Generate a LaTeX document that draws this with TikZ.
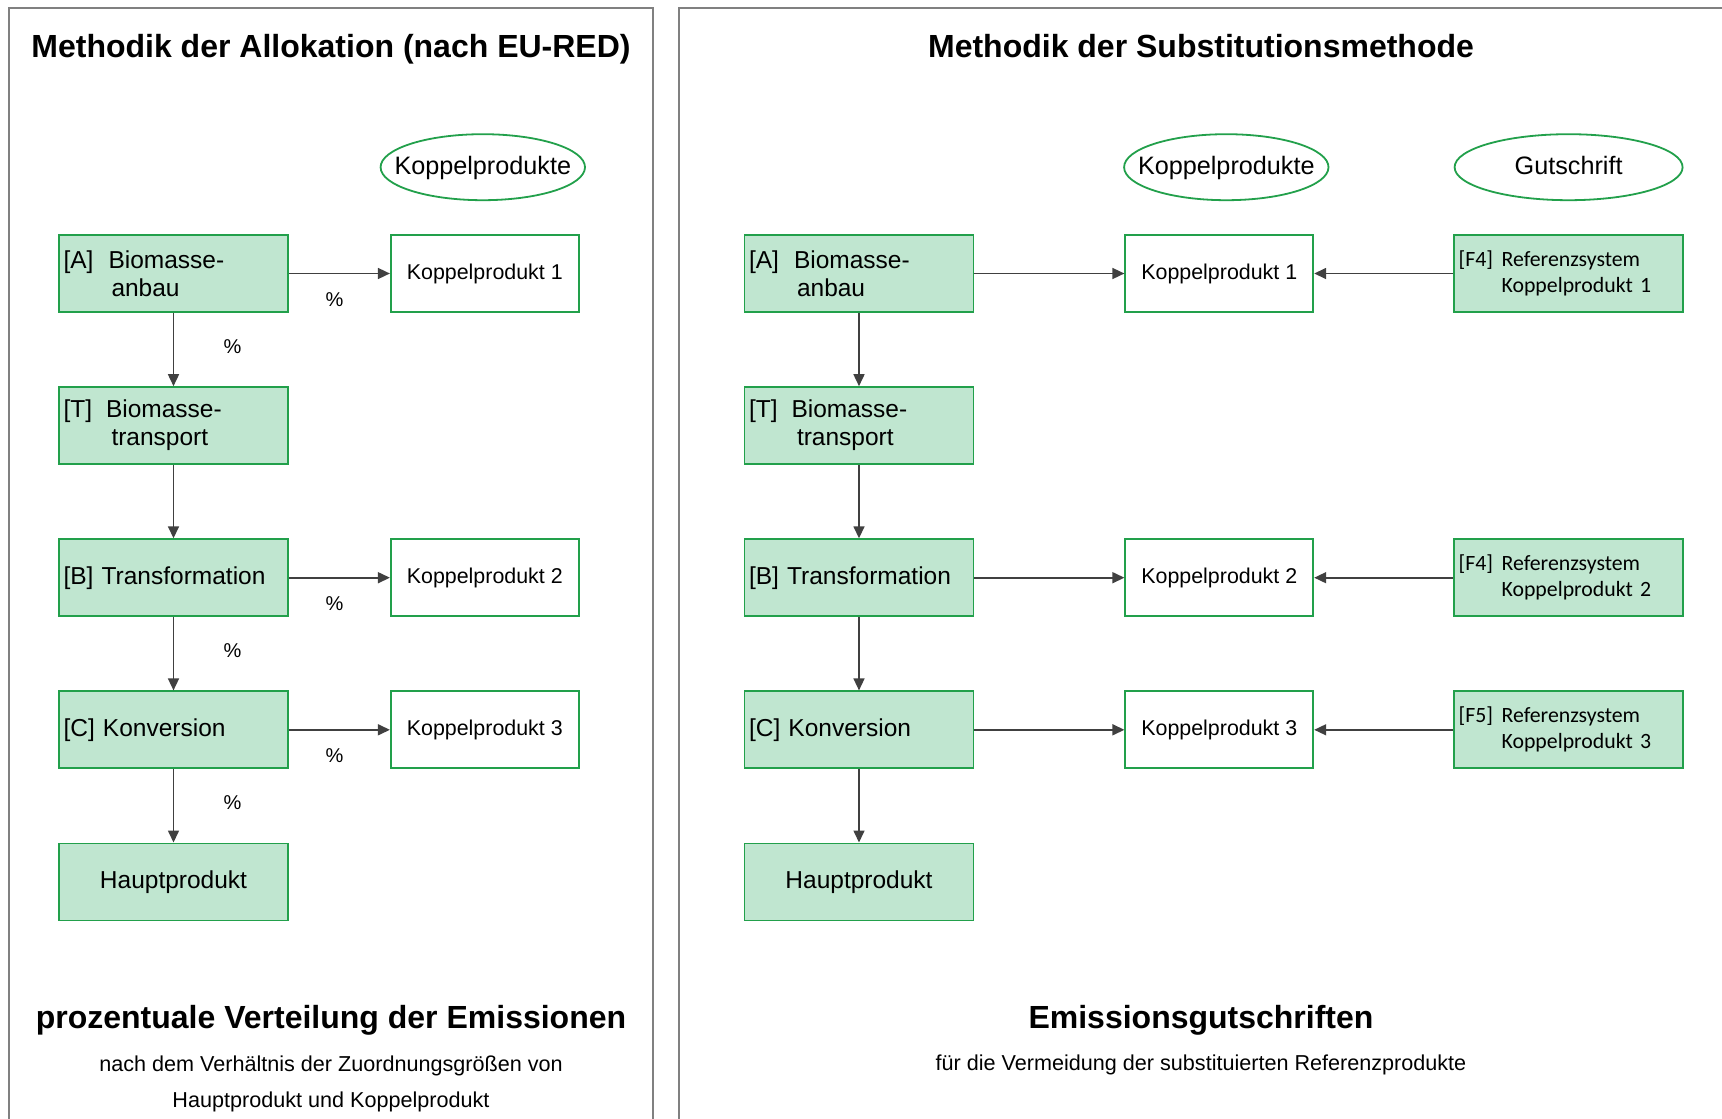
\documentclass[tikz,border=0pt]{standalone}
\usepackage{fontspec}
\setmainfont{Liberation Sans}
\newfontfamily\calibfont{Carlito}
\usepackage{tikz}
\usetikzlibrary{arrows.meta,positioning,shapes.geometric}
\definecolor{procgreen}{HTML}{C0E6D0}
\definecolor{linegreen}{HTML}{22A04B}
\definecolor{arrgrey}{HTML}{404040}
\definecolor{framegrey}{HTML}{808080}
\tikzset{
  proc/.style={draw=linegreen, line width=1.8pt, fill=procgreen, minimum height=77pt, text width=220pt, inner xsep=4.5pt, align=left, font=\fontsize{24.5}{28}\selectfont},
  procmid/.style={proc, align=center},
  kp/.style={draw=linegreen, line width=1.8pt, fill=white, minimum width=188pt, minimum height=77pt, align=center, font=\fontsize{21.4}{25}\selectfont},
  refsys/.style={proc, font=\calibfont\fontsize{21.8}{26}\selectfont},
  tag/.style={draw=linegreen, line width=1.8pt, ellipse, inner xsep=-16pt, inner ysep=0pt, minimum height=66pt, text height=18pt, text depth=4pt, font=\fontsize{25.2}{28}\selectfont},
  arr/.style={-{Triangle[length=12pt,width=11pt]}, draw=arrgrey, line width=1.6pt},
  pct/.style={font=\fontsize{20}{24}\selectfont},
  head/.style={font=\bfseries\fontsize{32}{38}\selectfont, text height=23pt, text depth=7pt},
  sub/.style={font=\fontsize{21.6}{25}\selectfont},
  panel/.style={draw=framegrey, line width=1.2pt}
}

\begin{document}
\begin{tikzpicture}[x=1pt, y=1pt, node distance=73.3pt and 101pt]
  \useasboundingbox (0,0) rectangle (1722,-1119);

  % frames
  \draw[panel] (9,-1130) -- (9,-8) -- (653,-8) -- (653,-1130);
  \draw[panel] (679,-1130) -- (679,-8) -- (1730,-8);

  % left: allocation
  \node[head] (ltitle) at (331,-49) {Methodik der Allokation (nach EU-RED)};
  \node[proc] (lA) at (173.5,-273.5) {\makebox[45pt][l]{[A]}Biomasse-\\\hspace*{48pt}anbau};
  \node[proc, below=of lA] (lT) {\makebox[42.5pt][l]{[T]}Biomasse-\\\hspace*{48pt}transport};
  \node[proc, below=of lT] (lB) {[B] Transformation};
  \node[proc, below=of lB] (lC) {[C] Konversion};
  \node[procmid, below=of lC] (lH) {Hauptprodukt};
  \node[kp, right=of lA] (lK1) {Koppelprodukt 1};
  \node[kp, right=of lB] (lK2) {Koppelprodukt 2};
  \node[kp, right=of lC] (lK3) {Koppelprodukt 3};
  \node[tag, minimum width=203pt, above=33pt of lK1, xshift=-2pt] (lkoppel) {Koppelprodukte};

  \draw[arr] (lA) -- node[pct, midway, below=15pt, xshift=-5pt] (lpA) {\%} (lK1);
  \draw[arr] (lB) -- node[pct, midway, below=15pt, xshift=-5pt] (lpB) {\%} (lK2);
  \draw[arr] (lC) -- node[pct, midway, below=15pt, xshift=-5pt] (lpC) {\%} (lK3);
  \draw[arr] (lA) -- node[pct, midway, right=46pt, yshift=3pt] (lpAT) {\%} (lT);
  \draw[arr] (lT) -- (lB);
  \draw[arr] (lB) -- node[pct, midway, right=46pt, yshift=3pt] (lpBC) {\%} (lC);
  \draw[arr] (lC) -- node[pct, midway, right=46pt, yshift=3pt] (lpCH) {\%} (lH);

  \node[head] (lfoot) at (331,-1020) {prozentuale Verteilung der Emissionen};
  \node[sub] (lnote1) at (331,-1066) {nach dem Verh\"altnis der Zuordnungsgr\"o\ss en von};
  \node[sub] (lnote2) at (331,-1102) {Hauptprodukt und Koppelprodukt};

  % right: substitution
  \node[head] (rtitle) at (1201,-49) {Methodik der Substitutionsmethode};
  \node[proc] (rA) at (859,-273.5) {\makebox[45pt][l]{[A]}Biomasse-\\\hspace*{48pt}anbau};
  \node[proc, below=of rA] (rT) {\makebox[42.5pt][l]{[T]}Biomasse-\\\hspace*{48pt}transport};
  \node[proc, below=of rT] (rB) {[B] Transformation};
  \node[proc, below=of rB] (rC) {[C] Konversion};
  \node[procmid, below=of rC] (rH) {Hauptprodukt};
  \node[kp, right=150pt of rA] (rK1) {Koppelprodukt 1};
  \node[kp, right=150pt of rB] (rK2) {Koppelprodukt 2};
  \node[kp, right=150pt of rC] (rK3) {Koppelprodukt 3};
  \node[refsys, right=139pt of rK1] (rF1) {\makebox[43pt][l]{[F4]}Referenzsystem\\\hspace*{43pt}Koppelprodukt 1};
  \node[refsys, right=139pt of rK2] (rF2) {\makebox[43pt][l]{[F4]}Referenzsystem\\\hspace*{43pt}Koppelprodukt 2};
  \node[refsys, right=139pt of rK3] (rF3) {\makebox[43pt][l]{[F5]}Referenzsystem\\\hspace*{43pt}Koppelprodukt 3};
  \node[tag, minimum width=204pt, above=33pt of rK1, xshift=7pt] (rkoppel) {Koppelprodukte};
  \node[tag, minimum width=228pt, above=33pt of rF1] (rgut) {Gutschrift};

  \draw[arr] (rA) -- (rK1);
  \draw[arr] (rB) -- (rK2);
  \draw[arr] (rC) -- (rK3);
  \draw[arr] (rF1) -- (rK1);
  \draw[arr] (rF2) -- (rK2);
  \draw[arr] (rF3) -- (rK3);
  \draw[arr] (rA) -- (rT);
  \draw[arr] (rT) -- (rB);
  \draw[arr] (rB) -- (rC);
  \draw[arr] (rC) -- (rH);

  \node[head] (rfoot) at (1201,-1020) {Emissionsgutschriften};
  \node[sub] (rnote) at (1201,-1065) {f\"ur die Vermeidung der substituierten Referenzprodukte};
\end{tikzpicture}
\end{document}
